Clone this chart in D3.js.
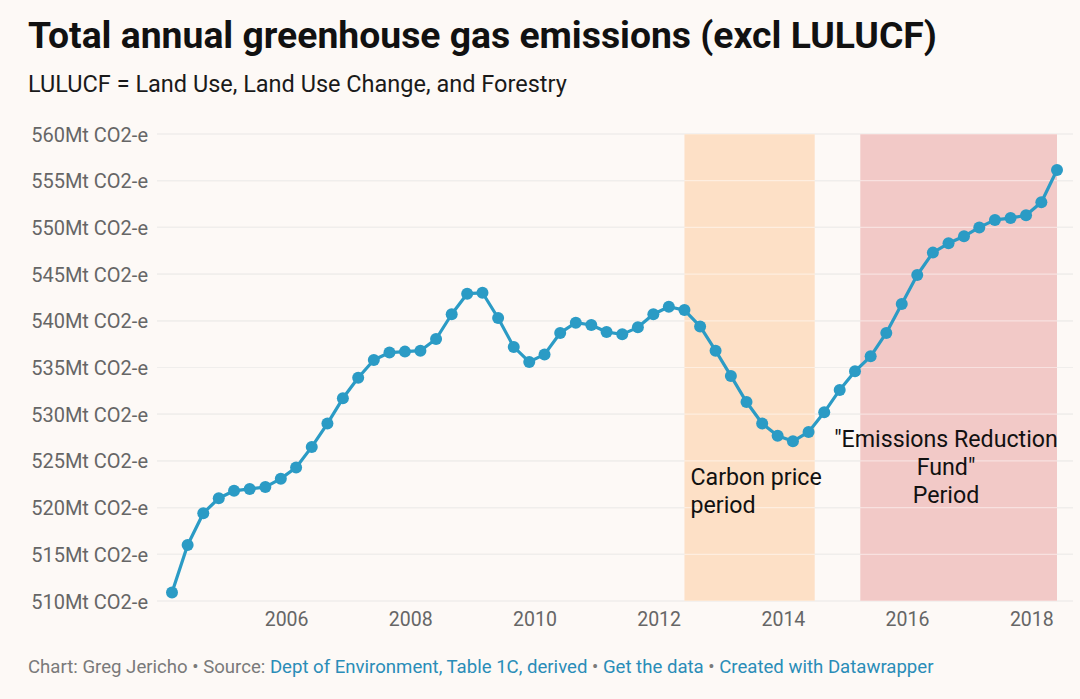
<!DOCTYPE html>
<html>
<head>
<meta charset="utf-8">
<script src="https://cdn.jsdelivr.net/npm/d3@7"></script>
<style>
  html, body { margin: 0; padding: 0; background: #fdf9f6; }
  svg { display: block; font-family: Roboto, "Noto Sans", sans-serif; }
</style>
</head>
<body>
<svg id="chart" width="1080" height="699"></svg>
<script>
// ---- Data ----
const quarters = [
  "2004-03","2004-06","2004-09","2004-12",
  "2005-03","2005-06","2005-09","2005-12",
  "2006-03","2006-06","2006-09","2006-12",
  "2007-03","2007-06","2007-09","2007-12",
  "2008-03","2008-06","2008-09","2008-12",
  "2009-03","2009-06","2009-09","2009-12",
  "2010-03","2010-06","2010-09","2010-12",
  "2011-03","2011-06","2011-09","2011-12",
  "2012-03","2012-06","2012-09","2012-12",
  "2013-03","2013-06","2013-09","2013-12",
  "2014-03","2014-06","2014-09","2014-12",
  "2015-03","2015-06","2015-09","2015-12",
  "2016-03","2016-06","2016-09","2016-12",
  "2017-03","2017-06","2017-09","2017-12",
  "2018-03","2018-06"
];
const emissions = [
  510.9, 516.0, 519.4, 521.0,
  521.8, 522.0, 522.2, 523.1,
  524.3, 526.5, 529.0, 531.7,
  533.9, 535.8, 536.6, 536.7,
  536.8, 538.05, 540.7, 542.9,
  543.0, 540.3, 537.2, 535.6,
  536.4, 538.7, 539.8, 539.55,
  538.8, 538.55, 539.3, 540.7,
  541.5, 541.15, 539.4, 536.8,
  534.1, 531.3, 529.0, 527.7,
  527.1, 528.1, 530.2, 532.6,
  534.6, 536.2, 538.7, 541.8,
  544.9, 547.3, 548.3, 549.05,
  550.0, 550.8, 551.0, 551.3,
  552.7, 556.15
];
const yTicks = [510, 515, 520, 525, 530, 535, 540, 545, 550, 555, 560];
const xTickYears = [2006, 2008, 2010, 2012, 2014, 2016, 2018];
const bandNames = ["Carbon price", "Emissions Reduction Fund"];
const bandStarts = ["2012-06-01", "2015-04-01"];
const bandEnds = ["2014-07-07", "2018-06-01"];
const bandColors = ["#fde0c6", "#f2c9c7"];
const title = "Total annual greenhouse gas emissions (excl LULUCF)";
const subtitle = "LULUCF = Land Use, Land Use Change, and Forestry";

// ---- Setup ----
const svg = d3.select("#chart");
const parse = d3.timeParse("%Y-%m");
const parseDay = d3.timeParse("%Y-%m-%d");
const data = quarters.map((q, i) => ({ date: parse(q), value: emissions[i] }));

const x = d3.scaleTime()
  .domain(d3.extent(data, d => d.date))
  .range([172, 1057]);
const y = d3.scaleLinear().domain([510, 560]).range([601, 134]);

const gridLeft = 157, gridRight = 1073;

// Title & subtitle
svg.append("text").attr("x", 28).attr("y", 48)
  .attr("font-size", 37.3).attr("font-weight", 700).attr("fill", "#111")
  .text(title);
svg.append("text").attr("x", 28).attr("y", 92)
  .attr("font-size", 23.5).attr("fill", "#1a1a1a")
  .text(subtitle);

// Gridlines (under bands)
svg.append("g").selectAll("line").data(yTicks).join("line")
  .attr("x1", gridLeft).attr("x2", gridRight)
  .attr("y1", d => y(d)).attr("y2", d => y(d))
  .attr("stroke", "#e3e0dc").attr("stroke-width", 1.2);

// Bands
const bands = bandNames.map((n, i) => ({ name: n, start: parseDay(bandStarts[i]), end: parseDay(bandEnds[i]), color: bandColors[i] }));
svg.append("g").selectAll("rect").data(bands).join("rect")
  .attr("x", d => x(d.start))
  .attr("width", d => x(d.end) - x(d.start))
  .attr("y", y(560)).attr("height", y(510) - y(560))
  .attr("fill", d => d.color);

// Light gridlines over bands
svg.append("g").selectAll("line").data(yTicks).join("line")
  .attr("x1", gridLeft).attr("x2", gridRight)
  .attr("y1", d => y(d)).attr("y2", d => y(d))
  .attr("stroke", "rgba(255,255,255,0.45)").attr("stroke-width", 1.2);

// Y axis labels
const yAxis = d3.axisLeft(y).tickValues(yTicks).tickSize(0).tickPadding(0)
  .tickFormat(d => d + "Mt CO2-e");
const gy = svg.append("g").attr("transform", "translate(148,0)").call(yAxis);
gy.select(".domain").remove();
gy.selectAll("text").attr("font-size", 20).attr("fill", "#666")
  .attr("font-family", "Roboto, sans-serif").attr("dy", "0.35em");

// X axis labels
const xAxis = d3.axisBottom(x)
  .tickValues(xTickYears.map(yr => new Date(yr, 0, 1)))
  .tickSize(0).tickPadding(0).tickFormat(d3.timeFormat("%Y"));
const gx = svg.append("g").attr("transform", "translate(0,626)").call(xAxis);
gx.select(".domain").remove();
gx.selectAll("text").attr("font-size", 19.5).attr("fill", "#666")
  .attr("font-family", "Roboto, sans-serif").attr("dy", 0);

// Line
const line = d3.line().x(d => x(d.date)).y(d => y(d.value));
svg.append("path").datum(data)
  .attr("d", line).attr("fill", "none")
  .attr("stroke", "#2b9bc5").attr("stroke-width", 3.2).attr("stroke-linejoin", "round");
svg.append("g").selectAll("circle").data(data).join("circle")
  .attr("cx", d => x(d.date)).attr("cy", d => y(d.value)).attr("r", 6)
  .attr("fill", "#2b9bc5");

// Annotations
const ann = svg.append("g").attr("font-size", 23.2).attr("fill", "#111");
ann.append("text").attr("x", x(bands[0].start) + 6).attr("y", 485).text("Carbon price");
ann.append("text").attr("x", x(bands[0].start) + 6).attr("y", 513).text("period");
const cx2 = 946;
ann.append("text").attr("x", cx2).attr("y", 447).attr("text-anchor", "middle").text("\"Emissions Reduction");
ann.append("text").attr("x", cx2).attr("y", 475).attr("text-anchor", "middle").text("Fund\"");
ann.append("text").attr("x", cx2).attr("y", 503).attr("text-anchor", "middle").text("Period");

// Footer
const foot = svg.append("text").attr("x", 28).attr("y", 673).attr("font-size", 18.6);
const grey = "#7a7a7a", blue = "#2a8db8";
[["Chart: Greg Jericho \u2022 Source: ", grey],
 ["Dept of Environment, Table 1C, derived", blue],
 [" \u2022 ", grey],
 ["Get the data", blue],
 [" \u2022 ", grey],
 ["Created with Datawrapper", blue]].forEach(([t, c]) => {
  foot.append("tspan").attr("fill", c).text(t);
});
</script>
</body>
</html>
